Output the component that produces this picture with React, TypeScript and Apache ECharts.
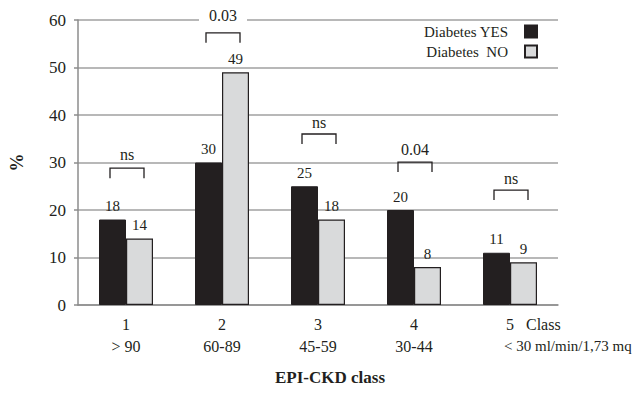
import React, { useEffect, useRef } from "react";
import * as echarts from "echarts";

const classes = ["1", "2", "3", "4", "5"];
const ranges = ["> 90", "60-89", "45-59", "30-44", "< 30 ml/min/1,73 mq"];
const diabetesYes = [18, 30, 25, 20, 11];
const diabetesNo = [14, 49, 18, 8, 9];
const pLabels = ["ns", "0.03", "ns", "0.04", "ns"];
const bracketLevels = [28.8, 57.3, 36, 30.1, 24.2];
const pLabelLevels = [31.6, 61, 38.5, 32.8, 26.7];
const yTicks = { min: 0, max: 60, interval: 10 };

const FONT = "Liberation Serif";
const INK = "#231f20";

export default function App() {
  const ref = useRef<HTMLDivElement>(null);
  useEffect(() => {
    if (!ref.current) return;
    const chart = echarts.init(ref.current, null, { renderer: "svg" });
    const last = classes.length - 1;
    chart.setOption({
      animation: false,
      textStyle: { fontFamily: FONT, color: INK },
      grid: { left: 78, right: 85, top: 20, bottom: 88, outerBoundsMode: "none", containLabel: false },
      legend: {
        orient: "vertical",
        right: 100,
        top: 19,
        align: "right",
        itemWidth: 12,
        itemHeight: 12,
        itemGap: 5,
        icon: "rect",
        textStyle: { fontFamily: FONT, fontSize: 15, color: INK, padding: [0, 12, 0, 0] },
        data: ["Diabetes YES", "Diabetes  NO"],
      },
      xAxis: {
        type: "category",
        data: classes.map((c, i) =>
          i === last ? { value: c, textStyle: { align: "left", padding: [0, 0, 0, 0] } } : c
        ),
        name: "EPI-CKD class",
        nameLocation: "middle",
        nameGap: 64,
        nameTextStyle: { fontFamily: FONT, fontSize: 17, fontWeight: "bold", color: INK, padding: [0, 0, 0, 24] },
        axisLine: { lineStyle: { color: "#8c8c8c", width: 1.5 } },
        axisTick: { show: false },
        axisLabel: {
          interval: 0,
          fontFamily: FONT,
          fontSize: 16,
          color: INK,
          lineHeight: 22,
          margin: 8,
          formatter: (v: string, i: number) =>
            i === last ? `{a|${v}   Class}\n{b|${ranges[i]}}` : `${v}\n${ranges[i]}`,
          rich: {
            a: { fontFamily: FONT, fontSize: 16, color: INK, lineHeight: 22, padding: [0, 0, 0, -4] },
            b: { fontFamily: FONT, fontSize: 15, color: INK, lineHeight: 22, padding: [0, 0, 0, -6] },
          },
        },
      },
      yAxis: {
        type: "value",
        min: yTicks.min,
        max: yTicks.max,
        interval: yTicks.interval,
        name: "%",
        nameLocation: "middle",
        nameGap: 52,
        nameRotate: 90,
        nameTextStyle: { fontFamily: FONT, fontSize: 18, fontWeight: "bold", color: INK },
        axisLine: { show: true, lineStyle: { color: "#8c8c8c", width: 1.5 } },
        axisTick: { show: true, length: 4, lineStyle: { color: "#8c8c8c", width: 1.5 } },
        axisLabel: { fontFamily: FONT, fontSize: 17, color: INK, margin: 12 },
        splitLine: { lineStyle: { color: "#a0a0a0", width: 1.5 } },
      },
      series: [
        {
          name: "Diabetes YES",
          type: "bar",
          data: diabetesYes,
          barWidth: 27,
          barGap: "0%",
          itemStyle: { color: INK, borderColor: INK, borderWidth: 1 },
          label: { show: true, position: "top", distance: 6, fontFamily: FONT, fontSize: 15, color: INK },
        },
        {
          name: "Diabetes  NO",
          type: "bar",
          data: diabetesNo,
          barWidth: 27,
          barGap: "0%",
          itemStyle: { color: "#d9dadb", borderColor: INK, borderWidth: 1.2 },
          label: { show: true, position: "top", distance: 6, fontFamily: FONT, fontSize: 15, color: INK },
        },
        {
          type: "custom",
          z: 10,
          silent: true,
          data: bracketLevels.map((v, i) => [i, v, pLabelLevels[i]]),
          renderItem: (params: any, api: any) => {
            const i = api.value(0);
            const p = api.coord([i, api.value(1)]);
            const t = api.coord([i, api.value(2)]);
            const l = p[0] - 16;
            const r = p[0] + 18;
            const label = pLabels[params.dataIndex];
            const isTop = api.value(2) > yTicks.max;
            return {
              type: "group",
              children: [
                {
                  type: "polyline",
                  shape: { points: [[l, p[1] + 10], [l, p[1]], [r, p[1]], [r, p[1] + 10]] },
                  style: { stroke: INK, lineWidth: 1.3, fill: "none" },
                },
                {
                  type: "text",
                  x: (l + r) / 2,
                  y: t[1],
                  style: {
                    text: label,
                    fontFamily: FONT,
                    fontSize: 16,
                    fill: INK,
                    align: "center",
                    verticalAlign: "middle",
                    backgroundColor: isTop ? "#fff" : undefined,
                    padding: isTop ? [2, 10] : 0,
                  },
                },
              ],
            };
          },
        },
      ],
    });
    return () => chart.dispose();
  }, []);
  return <div ref={ref} style={{ width: 643, height: 393, position: "absolute", left: 0, top: 0, background: "#fff" }} />;
}
